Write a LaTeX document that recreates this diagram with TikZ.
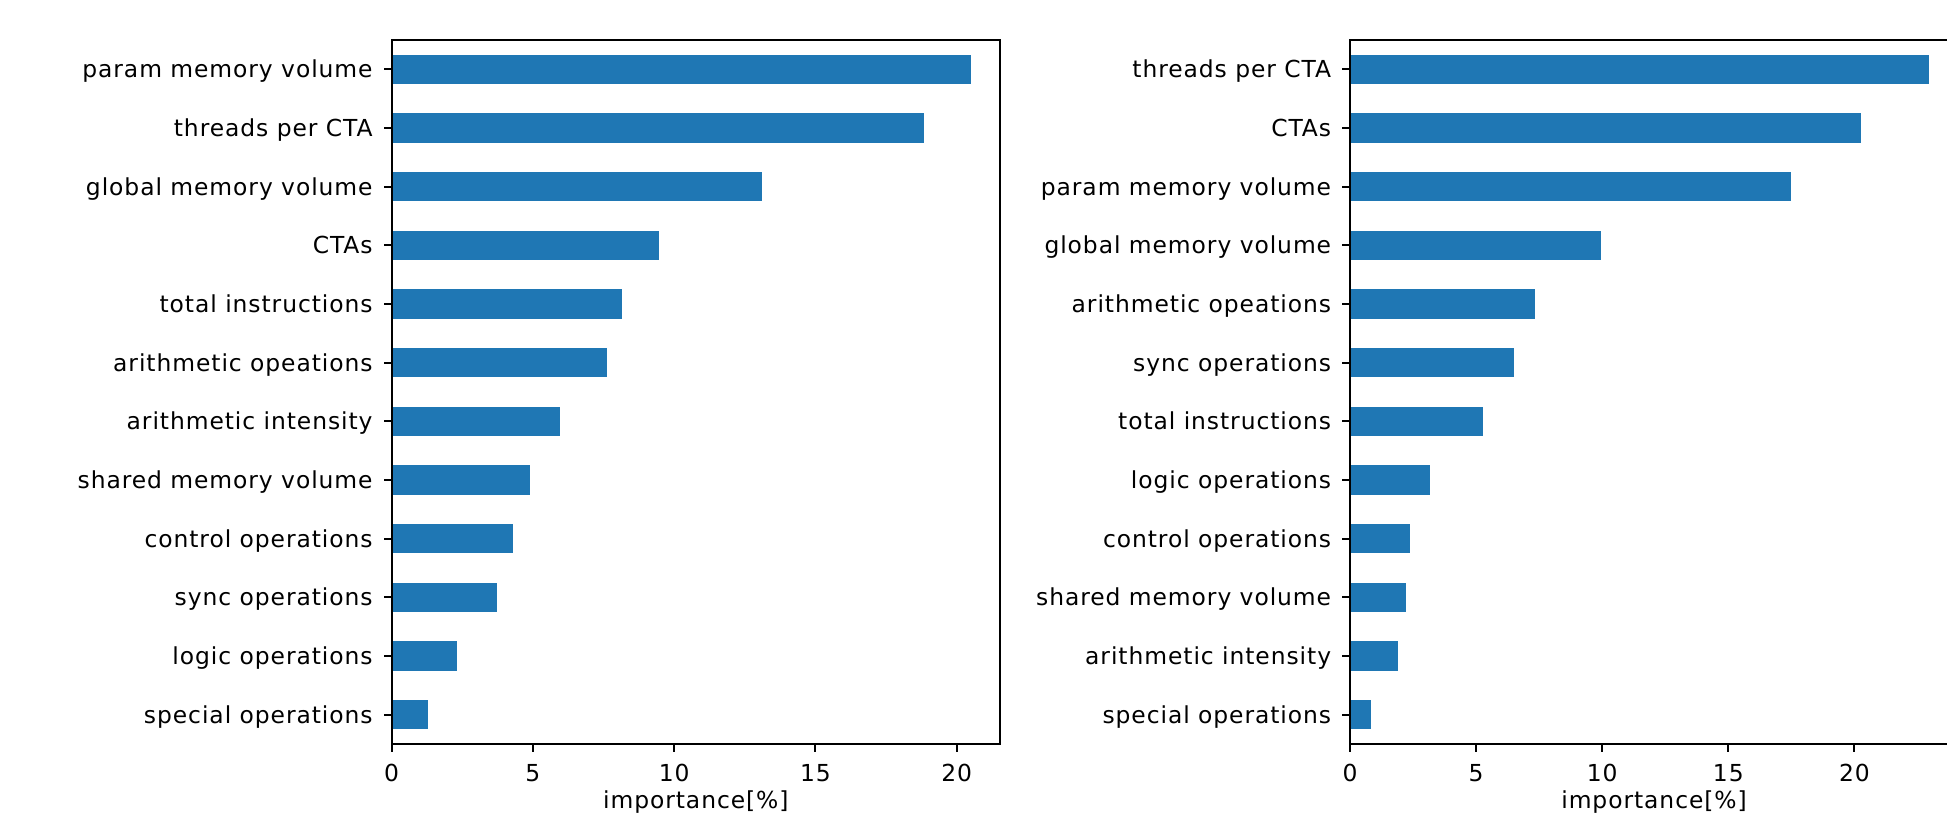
\documentclass[tikz,border=0pt]{standalone}
\usepackage{fontspec}
\setmainfont{DejaVu Sans}[LetterSpace=4.0]
\definecolor{barblue}{HTML}{1F77B4}
\begin{document}
\begin{tikzpicture}[x=0.5pt,y=-0.5pt,
  txt/.style={font=\fontsize{11.7pt}{13.5pt}\selectfont, inner sep=0pt, text=black},
  ylab/.style={txt, anchor=base east},
  xlab/.style={txt, anchor=base},
  bar/.style={fill=barblue, draw=none},
  spine/.style={line width=1.1pt, line cap=rect, black},
  tick/.style={line width=1pt, black}]
\useasboundingbox (0,0) rectangle (1947,813);
\def\top{40}\def\bot{744}\def\gap{58.667}\def\hh{14.67}
% ---------- left panel ----------
\def\xo{391.6}\def\sc{28.25}
\foreach \v/\t [count=\i from 0] in {20.51/param memory volume, 18.85/threads per CTA, 13.11/global memory volume, 9.47/CTAs, 8.16/total instructions, 7.63/arithmetic opeations, 5.96/arithmetic intensity, 4.91/shared memory volume, 4.29/control operations, 3.72/sync operations, 2.31/logic operations, 1.29/special operations}{
  \pgfmathsetmacro\yc{\top+\gap*(\i+0.5)}
  \fill[bar] (\xo,{\yc-\hh}) rectangle ({\xo+\v*\sc},{\yc+\hh});
  \coordinate (lt\i) at (\xo,\yc);
  \draw[tick] (lt\i) -- ++(-8,0);
  \node[ylab] (ll\i) at (373,{\yc+8.5}) {\t};
}
\coordinate (lTL) at (\xo,\top);
\coordinate (lTR) at (1000,\top);
\coordinate (lBL) at (\xo,\bot);
\coordinate (lBR) at (1000,\bot);
\draw[spine] (lTL) -- (lTR) -- (lBR) -- (lBL) -- cycle;
\foreach \k in {0,5,10,15,20}{
  \coordinate (lx\k) at ({\xo+\k*\sc},\bot);
  \draw[tick] (lx\k) -- ++(0,8);
  \node[xlab] (lxl\k) at ({\xo+\k*\sc},781.5) {\k};
}
\node[xlab] (lxlabel) at (695.8,808) {importance[\%]};
% ---------- right panel ----------
\def\xr{1350}\def\sr{25.22}
\foreach \v/\t [count=\i from 0] in {22.96/threads per CTA, 20.26/CTAs, 17.49/param memory volume, 9.95/global memory volume, 7.34/arithmetic opeations, 6.50/sync operations, 5.27/total instructions, 3.17/logic operations, 2.38/control operations, 2.22/shared memory volume, 1.90/arithmetic intensity, 0.83/special operations}{
  \pgfmathsetmacro\yc{\top+\gap*(\i+0.5)}
  \fill[bar] (\xr,{\yc-\hh}) rectangle ({\xr+\v*\sr},{\yc+\hh});
  \coordinate (rt\i) at (\xr,\yc);
  \draw[tick] (rt\i) -- ++(-8,0);
  \node[ylab] (rl\i) at (1331.5,{\yc+8.5}) {\t};
}
\coordinate (rTL) at (\xr,\top);
\coordinate (rTR) at (1958,\top);
\coordinate (rBL) at (\xr,\bot);
\coordinate (rBR) at (1958,\bot);
\draw[spine] (rTR) -- (rTL) -- (rBL) -- (rBR);
\foreach \k in {0,5,10,15,20}{
  \coordinate (rx\k) at ({\xr+\k*\sr},\bot);
  \draw[tick] (rx\k) -- ++(0,8);
  \node[xlab] (rxl\k) at ({\xr+\k*\sr},781.5) {\k};
}
\node[xlab] (rxlabel) at (1654,808) {importance[\%]};
\end{tikzpicture}
\end{document}
